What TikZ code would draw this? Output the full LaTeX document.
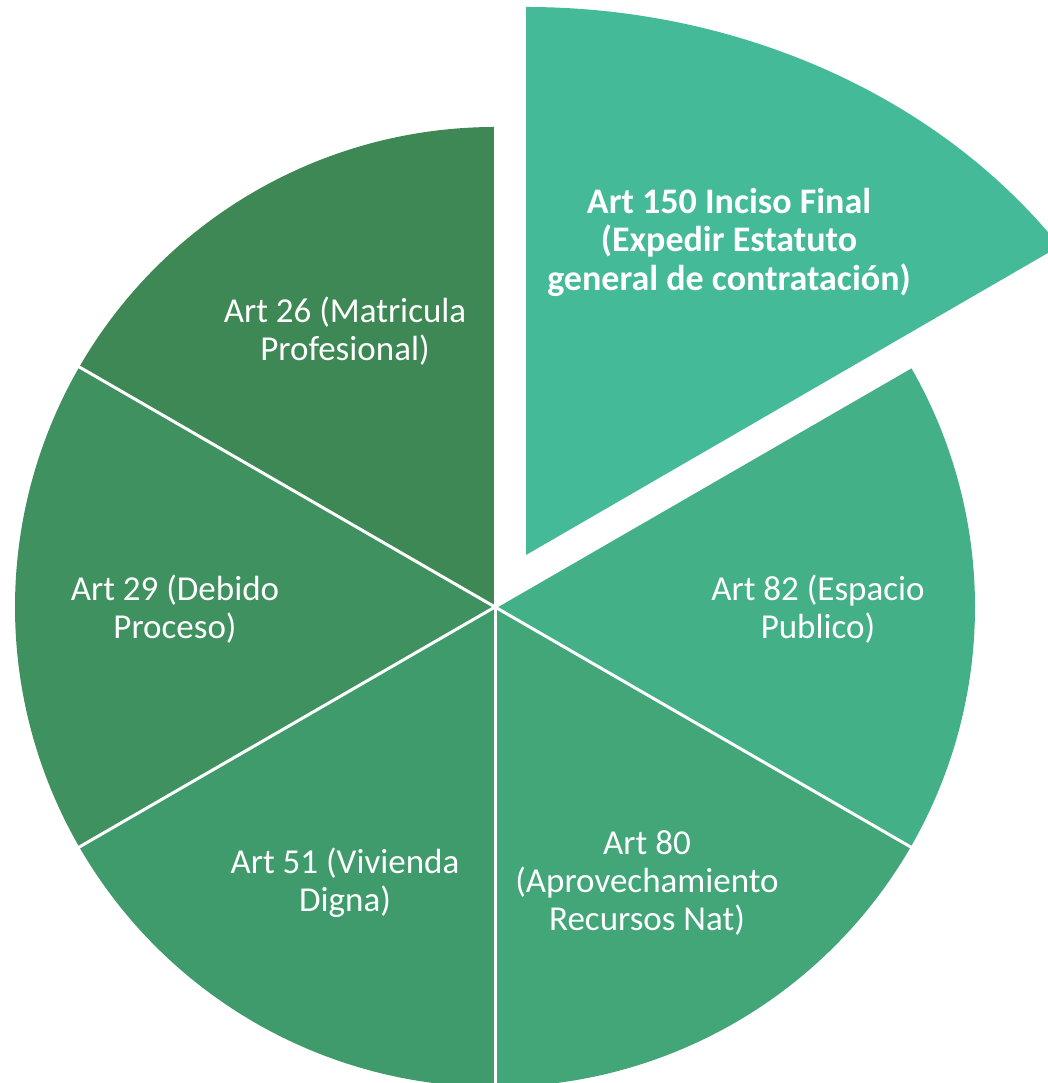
\documentclass[tikz,border=0pt]{standalone}
\usepackage{fontspec}
\setmainfont{Carlito}
\definecolor{cA}{RGB}{61,136,84}
\definecolor{cB}{RGB}{63,146,96}
\definecolor{cC}{RGB}{64,155,108}
\definecolor{cD}{RGB}{66,166,121}
\definecolor{cE}{RGB}{67,176,135}
\definecolor{cF}{RGB}{68,186,152}
\tikzset{
  lbl/.style={text=white, align=center, inner sep=0pt, font=\fontsize{35}{38}\selectfont},
  blbl/.style={lbl, font=\fontsize{36}{38.5}\selectfont\bfseries}
}
\begin{document}
\begin{tikzpicture}[x=1pt,y=1pt]
\useasboundingbox (0,0) rectangle (1048,1083);
\clip (0,0) rectangle (1048,1083);
\coordinate (C) at (495,476);
\coordinate (V) at (526,528);
% main pie slices
\fill[cA] (C) -- ++(90:480) arc[start angle=90, end angle=150, radius=480] -- cycle;
\fill[cB] (C) -- ++(150:480) arc[start angle=150, end angle=210, radius=480] -- cycle;
\fill[cC] (C) -- ++(210:480) arc[start angle=210, end angle=270, radius=480] -- cycle;
\fill[cD] (C) -- ++(270:480) arc[start angle=270, end angle=330, radius=480] -- cycle;
\fill[cE] (C) -- ++(330:480) arc[start angle=330, end angle=390, radius=480] -- cycle;
% white separators
\foreach \a in {90,150,210,270,330,30}
  \draw[white, line width=3pt] (C) -- ++(\a:490);
% exploded slice
\fill[cF] (V) -- ++(0,548) arc[start angle=90, end angle=34.3, x radius=646, y radius=548] -- cycle;
% labels
\node[lbl] (a26) at (345,752) {Art 26 (Matricula\\Profesional)};
\node[lbl] (a29) at (175,474) {Art 29 (Debido\\Proceso)};
\node[lbl] (a51) at (345,200) {Art 51 (Vivienda\\Digna)};
\node[lbl] (a80) at (647,200) {Art 80\\(Aprovechamiento\\Recursos Nat)};
\node[lbl] (a82) at (818,474) {Art 82 (Espacio\\Publico)};
\node[blbl] (a150) at (729,841) {Art 150 Inciso Final\\(Expedir Estatuto\\general de contratación)};
\end{tikzpicture}
\end{document}
